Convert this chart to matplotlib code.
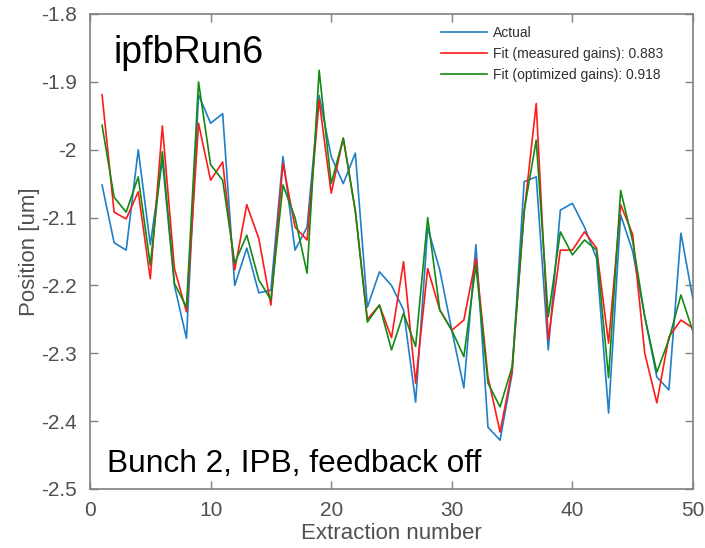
import matplotlib
matplotlib.use("Agg")
import matplotlib.pyplot as plt
import numpy as np

plt.rcParams['font.family'] = ['Liberation Sans', 'DejaVu Sans']
plt.rcParams['axes.unicode_minus'] = False

extraction = list(range(1, 51))
actual = [-2.052, -2.137, -2.148, -2.000, -2.140, -2.015, -2.200, -2.278, -1.919, -1.961,
          -1.947, -2.200, -2.145, -2.211, -2.207, -2.010, -2.148, -2.114, -1.920, -2.010,
          -2.050, -2.005, -2.232, -2.180, -2.200, -2.236, -2.372, -2.115, -2.177, -2.266,
          -2.351, -2.140, -2.409, -2.428, -2.330, -2.047, -2.040, -2.295, -2.089, -2.079,
          -2.114, -2.160, -2.388, -2.096, -2.150, -2.246, -2.335, -2.354, -2.123, -2.221]
fit_measured = [-1.919, -2.092, -2.102, -2.062, -2.190, -1.965, -2.175, -2.239, -1.961, -2.045,
                -2.018, -2.177, -2.081, -2.131, -2.229, -2.020, -2.114, -2.133, -1.927, -2.064,
                -1.983, -2.090, -2.250, -2.229, -2.277, -2.165, -2.344, -2.175, -2.236, -2.266,
                -2.251, -2.160, -2.335, -2.416, -2.325, -2.093, -1.932, -2.280, -2.148, -2.148,
                -2.121, -2.145, -2.285, -2.081, -2.125, -2.300, -2.373, -2.276, -2.251, -2.263]
fit_optimized = [-1.964, -2.070, -2.092, -2.040, -2.170, -2.003, -2.197, -2.232, -1.900, -2.022,
                 -2.045, -2.167, -2.126, -2.192, -2.221, -2.052, -2.100, -2.182, -1.883, -2.050,
                 -1.983, -2.090, -2.254, -2.229, -2.295, -2.241, -2.290, -2.100, -2.236, -2.266,
                 -2.305, -2.170, -2.344, -2.379, -2.320, -2.090, -1.986, -2.246, -2.121, -2.155,
                 -2.133, -2.148, -2.336, -2.060, -2.135, -2.246, -2.328, -2.280, -2.214, -2.268]

labels = ['Actual', 'Fit (measured gains): 0.883', 'Fit (optimized gains): 0.918']
colors = ['#1f7fc8', '#ff1a1a', '#138a13']

fig = plt.figure(figsize=(7.05, 5.48), dpi=100)
ax = fig.add_axes([90/705, 1-489/548, (693-90)/705, (489-14)/548])

for series, lab, c in zip([actual, fit_measured, fit_optimized], labels, colors):
    ax.plot(extraction, series, color=c, lw=1.2, label=lab)

ax.set_xlim(0, 50)
ax.set_ylim(-2.5, -1.8)
ax.set_xticks([0, 10, 20, 30, 40, 50])
ax.set_yticks(np.round(np.arange(-2.5, -1.79, 0.1), 1))
ax.set_yticklabels(['-2.5', '-2.4', '-2.3', '-2.2', '-2.1', '-2', '-1.9', '-1.8'])

gray = '#808080'
for s in ax.spines.values():
    s.set_color(gray)
    s.set_linewidth(1.2)
ax.tick_params(direction='in', length=6, width=1, colors=gray, labelcolor='#505050',
               labelsize=15, top=True, right=True)
ax.tick_params(axis='x', pad=9)
ax.tick_params(axis='y', pad=9.5)

ax.set_xlabel('Extraction number', fontsize=16, color='#505050', labelpad=2)
ax.set_ylabel('Position [um]', fontsize=16, color='#505050', labelpad=1)

ax.text(113/705, 1-63/548, 'ipfbRun6', transform=fig.transFigure, fontsize=27,
        color='black', va='baseline', ha='left')
ax.text(107/705, 1-472/548, 'Bunch 2, IPB, feedback off', transform=fig.transFigure,
        fontsize=22.8, color='black', va='baseline', ha='left')

leg = ax.legend(loc='upper left', frameon=False, fontsize=10, handlelength=3.3,
                handletextpad=0.45, labelspacing=0.5, borderpad=0, borderaxespad=0,
                bbox_to_anchor=(441/705, 1-26/548), bbox_transform=fig.transFigure)
for t in leg.get_texts():
    t.set_color('#303030')

fig.savefig('out.png', dpi=100)
